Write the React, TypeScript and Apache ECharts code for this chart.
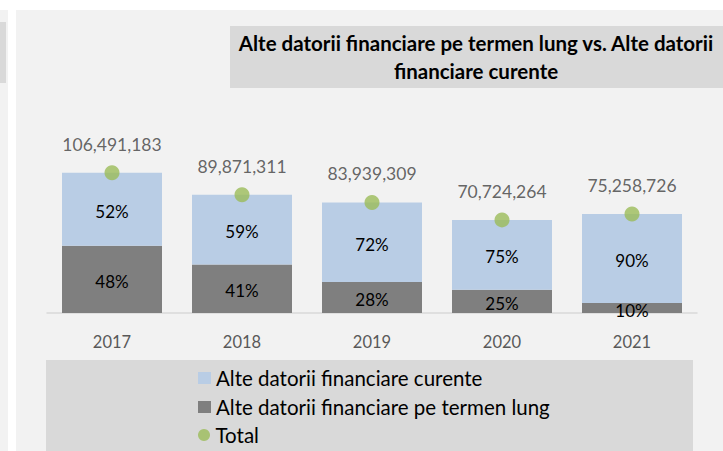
import React, { useEffect, useRef } from "react";
import * as echarts from "echarts";

const categories = ["2017", "2018", "2019", "2020", "2021"];
const totals = [106491183, 89871311, 83939309, 70724264, 75258726];
const longTermShare = [48, 41, 28, 25, 10];
const currentShare = [52, 59, 72, 75, 90];

const titleText = "Alte datorii financiare pe termen lung vs. Alte datorii\nfinanciare curente";
const nameCurrent = "Alte datorii financiare curente";
const nameLong = "Alte datorii financiare pe termen lung";
const nameTotal = "Total";

const FONT = "Lato, 'Open Sans', sans-serif";

export default function App() {
  const ref = useRef<HTMLDivElement>(null);
  useEffect(() => {
    if (!ref.current) return;
    const chart = echarts.init(ref.current, null, { renderer: "svg" });
    const longData = totals.map((t, i) => (t * longTermShare[i]) / 100);
    const currentData = totals.map((t, i) => (t * currentShare[i]) / 100);
    const legendText = { color: "#000000", fontSize: 20.5, lineHeight: 22, fontFamily: FONT };
    const legendBase = { orient: "vertical", left: 198, padding: 0, itemWidth: 13, itemHeight: 12 };
    chart.setOption({
      animation: false,
      backgroundColor: "#ffffff",
      textStyle: { fontFamily: FONT },
      graphic: [
        { type: "rect", z: -10, shape: { x: 0, y: 10, width: 8, height: 441 }, style: { fill: "#f2f2f2" } },
        { type: "rect", z: -9, shape: { x: 0, y: 22, width: 6, height: 61 }, style: { fill: "#d9d9d9" } },
        { type: "rect", z: -10, shape: { x: 16, y: 10, width: 707, height: 441 }, style: { fill: "#f2f2f2" } },
        { type: "rect", z: -9, shape: { x: 230, y: 26, width: 493, height: 62 }, style: { fill: "#d9d9d9" } },
        { type: "rect", z: -9, shape: { x: 46, y: 360, width: 647, height: 91 }, style: { fill: "#d9d9d9" } },
        {
          type: "text",
          z: 10,
          x: 476,
          y: 57,
          style: {
            text: titleText,
            fill: "#000000",
            fontWeight: "bold",
            fontSize: 20.5,
            fontFamily: FONT,
            lineHeight: 28,
            align: "center",
            verticalAlign: "middle",
          },
        },
      ],
      legend: [
        { ...legendBase, top: 367, data: [{ name: nameCurrent, icon: "rect" }], textStyle: legendText },
        { ...legendBase, top: 396, data: [{ name: nameLong, icon: "rect" }], textStyle: legendText },
        { ...legendBase, top: 424, data: [{ name: nameTotal, icon: "circle" }], textStyle: legendText },
      ],
      grid: { left: 47, right: 26, top: 155, bottom: 138 },
      xAxis: {
        type: "category",
        data: categories,
        axisLine: { lineStyle: { color: "#d9d9d9", width: 1.5 } },
        axisTick: { show: false },
        axisLabel: { color: "#595959", fontSize: 16.5, margin: 20, fontFamily: FONT },
      },
      yAxis: {
        type: "value",
        min: 0,
        max: 120000000,
        show: false,
        splitLine: { show: false },
      },
      series: [
        {
          name: nameLong,
          type: "bar",
          stack: "s",
          barWidth: 100,
          data: longData,
          itemStyle: { color: "#7f7f7f" },
          label: {
            show: true,
            position: "inside",
            offset: [0, 2],
            color: "#000000",
            fontSize: 17,
            fontFamily: FONT,
            formatter: (p: any) => longTermShare[p.dataIndex] + "%",
          },
        },
        {
          name: nameCurrent,
          type: "bar",
          stack: "s",
          barWidth: 100,
          data: currentData,
          itemStyle: { color: "#b9cde5" },
          label: {
            show: true,
            position: "inside",
            offset: [0, 2],
            color: "#000000",
            fontSize: 17,
            fontFamily: FONT,
            formatter: (p: any) => currentShare[p.dataIndex] + "%",
          },
        },
        {
          name: nameTotal,
          type: "scatter",
          data: totals,
          symbol: "circle",
          symbolSize: 15,
          z: 5,
          itemStyle: { color: "#9bbb59" },
          label: {
            show: true,
            position: "top",
            distance: 12,
            color: "#404040",
            fontSize: 17.5,
            fontFamily: FONT,
            formatter: (p: any) => Number(totals[p.dataIndex]).toLocaleString("en-US"),
          },
        },
      ],
    });
    return () => chart.dispose();
  }, []);
  return (
    <div
      ref={ref}
      style={{ position: "fixed", left: 0, top: 0, width: 723, height: 451 }}
    />
  );
}
